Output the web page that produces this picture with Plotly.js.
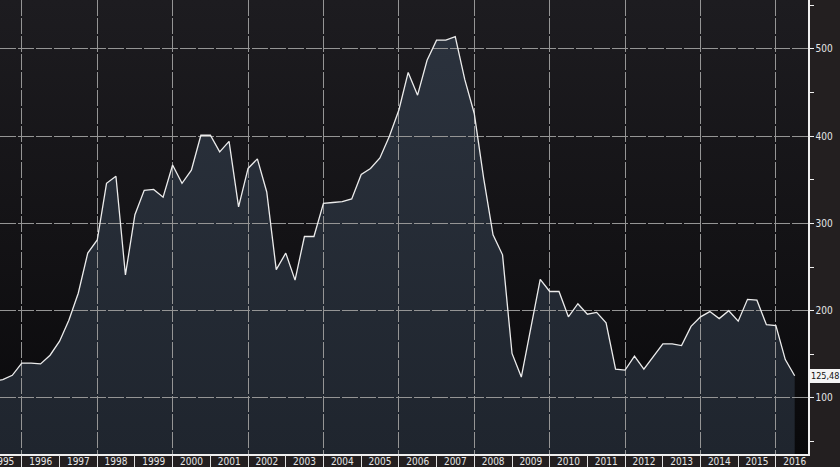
<!DOCTYPE html>
<html>
<head>
<meta charset="utf-8">
<script src="https://cdn.plot.ly/plotly-3.0.1.min.js"></script>
<style>
  html, body { margin: 0; padding: 0; background: #231f20; }
  #chart {
    width: 840px; height: 467px; overflow: hidden;
    background: linear-gradient(to bottom, #1d1c20 0%, #141316 50%, #09090b 100%) 0 0 / 808px 454px no-repeat, #231f20;
  }
</style>
</head>
<body>
<div id="chart"></div>
<script>
// Quarterly series, first quarter = 1995 Q2
const startYear = 1995;
const startQuarter = 2;
const values = [
  119, 121, 126,
  140, 140, 139, 149,
  165, 189, 220, 266,
  281, 346, 354, 241,
  310, 338, 339, 330,
  367, 346, 361, 401,
  401, 382, 394, 319,
  363, 374, 336, 247,
  266, 235, 285, 285,
  323, 324, 325, 328,
  356, 363, 375, 400,
  430, 473, 447, 487,
  510, 510, 514, 465,
  426, 352, 287, 264,
  151, 124, 180, 236,
  222, 222, 193, 208,
  196, 198, 186, 133,
  132, 148, 133, 147,
  162, 162, 160, 182,
  193, 199, 191, 200,
  188, 213, 212, 184,
  183, 144, 125.48
];
// year labels on the bottom axis (centred in each year)
const tickYears = [1995, 1996, 1997, 1998, 1999, 2000, 2001, 2002, 2003, 2004, 2005,
                   2006, 2007, 2008, 2009, 2010, 2011, 2012, 2013, 2014, 2015, 2016];
const xRange = ['1995-06-04', '2016-11-07'];
const yRange = [35.8, 556];
const yTickStep = 100;

const dates = values.map((v, i) => {
  const q = startQuarter - 1 + i;
  const y = startYear + Math.floor(q / 4);
  const m = (q % 4) * 3 + 1;
  return y + '-' + String(m).padStart(2, '0') + '-01';
});
const tickVals = tickYears.map(y => y + '-07-02');
const tickText = tickYears.map(y => String(y));
const lastVal = values[values.length - 1];
const lastLabel = String(lastVal).replace('.', ',');

const fontFamily = '"Liberation Sans Narrow", "DejaVu Sans Condensed", "Liberation Sans", sans-serif';
const tickFont = { family: fontFamily, size: 10, color: '#e6e6e6' };
const gridDash = '16px,2px';
const gridColor = '#959595';

// area fill (bottom subplot)
const areaTrace = {
  x: dates, y: values, type: 'scatter', mode: 'lines',
  xaxis: 'x', yaxis: 'y',
  line: { color: 'rgba(0,0,0,0)', width: 0 },
  fill: 'tozeroy',
  fillgradient: { type: 'vertical', start: yRange[0], stop: 520,
    colorscale: [[0, '#1f252e'], [1, '#2b323d']] },
  hoverinfo: 'skip'
};
// line drawn on the top subplot (above the grid)
const lineTrace = {
  x: dates, y: values, type: 'scatter', mode: 'lines',
  xaxis: 'x2', yaxis: 'y2',
  line: { color: '#ececec', width: 1.3 },
  hoverinfo: 'skip'
};

const layout = {
  width: 840, height: 467,
  margin: { l: 0, r: 32, t: 0, b: 13 },
  paper_bgcolor: 'rgba(0,0,0,0)',
  plot_bgcolor: 'rgba(0,0,0,0)',
  showlegend: false,
  xaxis: {
    type: 'date', range: xRange, domain: [0, 1], anchor: 'y',
    tickmode: 'array', tickvals: tickVals, ticktext: tickText,
    ticks: '', ticklabelstandoff: -3, ticklabeloverflow: 'allow',
    showgrid: false, zeroline: false, showline: true, linecolor: '#f0f0f0', linewidth: 1.5,
    tickfont: tickFont, fixedrange: true
  },
  yaxis: {
    side: 'right', range: yRange, domain: [0, 1], anchor: 'x',
    dtick: yTickStep, tick0: 0,
    showgrid: false,
    ticks: 'outside', ticklen: 4, tickcolor: '#f0f0f0',
    minor: { dtick: yTickStep / 2, ticks: 'outside', ticklen: 4, tickcolor: '#f0f0f0' },
    showline: true, linecolor: '#f0f0f0', linewidth: 1.5, zeroline: false,
    tickfont: tickFont, fixedrange: true
  },
  xaxis2: {
    type: 'date', range: xRange, domain: [0, 1], anchor: 'y2', side: 'bottom',
    dtick: 'M24', tick0: '1996-01-01', showticklabels: false,
    ticks: 'outside', ticklen: 13, tickcolor: '#e0e0e0', tickwidth: 1,
    showgrid: true, gridcolor: gridColor, gridwidth: 1, griddash: gridDash,
    minor: { dtick: 'M12', tick0: '1995-01-01', ticks: 'outside', ticklen: 13, tickcolor: '#e0e0e0', tickwidth: 1, showgrid: false },
    zeroline: false, showline: false, fixedrange: true
  },
  yaxis2: {
    side: 'right', range: yRange, domain: [0, 1], anchor: 'x2',
    dtick: yTickStep, tick0: 0, showticklabels: false, ticks: '',
    showgrid: true, gridcolor: gridColor, gridwidth: 1, griddash: gridDash,
    zeroline: false, showline: false, fixedrange: true
  },
  annotations: [{
    xref: 'paper', yref: 'y', x: 1, y: lastVal, xanchor: 'left', yanchor: 'middle',
    xshift: 1, text: lastLabel, showarrow: false,
    bgcolor: '#f4f4f4', bordercolor: '#f4f4f4', borderpad: 1,
    font: { family: fontFamily, size: 9, color: '#111111' }
  }]
};

Plotly.newPlot('chart', [areaTrace, lineTrace], layout, { displayModeBar: false, staticPlot: true });
</script>
</body>
</html>
